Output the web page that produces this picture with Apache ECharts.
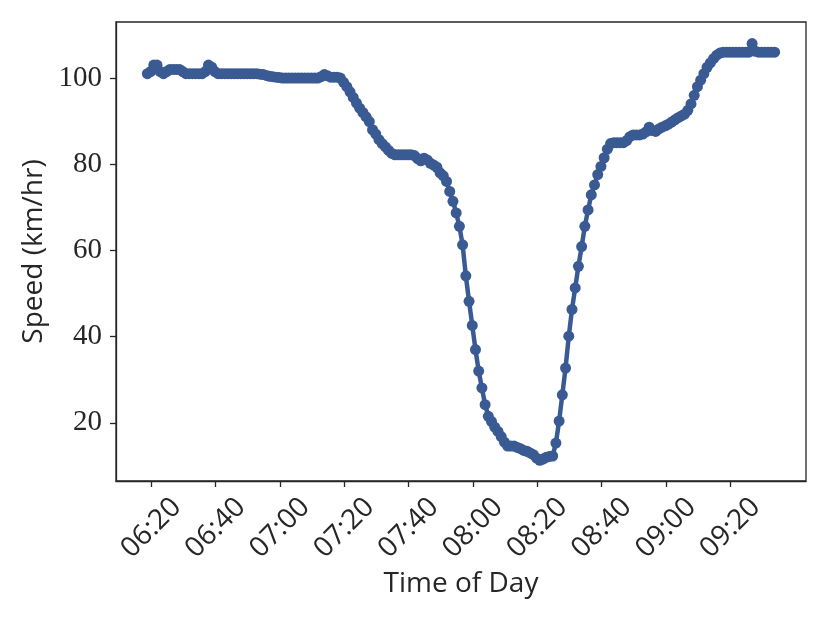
<!DOCTYPE html>
<html>
<head>
<meta charset="utf-8">
<script src="https://cdn.jsdelivr.net/npm/echarts@6/dist/echarts.min.js"></script>
<style>
html,body{margin:0;padding:0;background:#fff;}
#chart{width:830px;height:623px;}
</style>
</head>
<body>
<div id="chart"></div>
<script>
// Sampling: one reading per minute, first reading at 06:18:45
const startMinute = 6 * 60 + 18.75;
const stepMinutes = 1;

// Speed readings (km/hr)
const speeds = [
  101, 101.5, 103, 103, 101.5, 101, 101.5, 102, 102, 102,
  102, 101.5, 101, 101, 101, 101, 101, 101, 101.5, 103,
  102.5, 101.5, 101, 101, 101, 101, 101, 101, 101, 101,
  101, 101, 101, 101, 101, 100.9, 100.8, 100.6, 100.4, 100.3,
  100.2, 100.1, 100, 100, 100, 100, 100, 100, 100, 100,
  100, 100, 100, 100, 100.3, 100.8, 100.5, 100.2, 100.2, 100.2,
  100, 99, 98, 96.8, 95.5, 94.2, 93, 92, 91, 89.9,
  88, 87, 85.7, 84.8, 84, 83.2, 82.5, 82.2, 82.2, 82.2,
  82.2, 82.2, 82.2, 82, 81.3, 80.8, 81.4, 81, 80.2, 79.8,
  79.3, 78, 77.3, 76, 73.7, 71.4, 68.7, 65.6, 61.3, 54.1,
  48.2, 42.6, 37, 32, 28.1, 24.2, 21.5, 20.3, 19, 18,
  16.8, 15.5, 14.6, 14.6, 14.6, 14.3, 14, 13.6, 13.4, 13,
  12.6, 11.8, 11.3, 11.6, 12, 12.2, 12.3, 15.3, 20.4, 26.5,
  32.7, 40.1, 46.3, 51.3, 56.3, 60.9, 65.6, 69.4, 72.9, 75.2,
  77.6, 79.5, 81.5, 83.5, 84.8, 85, 85, 85, 85, 85.5,
  86.4, 86.8, 86.8, 86.8, 87, 87.5, 88.6, 87.8, 87.6, 88.2,
  88.6, 88.9, 89.3, 89.8, 90.3, 90.8, 91.2, 91.6, 92.5, 94,
  96, 98, 99.5, 101, 102.5, 103.5, 104.5, 105.3, 105.8, 106,
  106, 106, 106, 106, 106, 106, 106, 106, 108, 106.2,
  106, 106, 106, 106, 106, 106
];

// Tick positions
const xTickLabels = ["06:20","06:40","07:00","07:20","07:40","08:00","08:20","08:40","09:00","09:20"];
const yTicks = [20, 40, 60, 80, 100];

function toMinutes(s){ const p = s.split(":"); return (+p[0]) * 60 + (+p[1]); }
function fmt(m){ const h = Math.floor(m / 60), mm = Math.round(m - h * 60); return String(h).padStart(2,"0") + ":" + String(mm).padStart(2,"0"); }

const seriesData = speeds.map((v, i) => [startMinute + i * stepMinutes, v]);
const xTicks = xTickLabels.map(toMinutes);

const ink = '#262626';
const blue = '#3a5a93';
const sans = '"Open Sans", "DejaVu Sans", sans-serif';
const serif = '"Liberation Serif", "DejaVu Serif", serif';

const chart = echarts.init(document.getElementById('chart'), null, {renderer: 'canvas'});
chart.setOption({
  animation: false,
  backgroundColor: '#ffffff',
  grid: {
    left: 116, right: 24, top: 22, bottom: 142,
    show: true, borderColor: ink, borderWidth: 1.3, backgroundColor: 'transparent'
  },
  xAxis: {
    type: 'value',
    min: 369.0,
    max: 583.5,
    name: 'Time of Day',
    nameLocation: 'middle',
    nameGap: 87,
    nameTextStyle: {fontFamily: sans, fontSize: 28, color: ink},
    splitLine: {show: false},
    axisLine: {show: true, onZero: false, lineStyle: {color: ink, width: 1.3}},
    axisTick: {show: true, length: 6, lineStyle: {color: ink, width: 1.3}, customValues: xTicks},
    axisLabel: {
      customValues: xTicks,
      formatter: v => fmt(v),
      rotate: 45,
      align: 'center',
      verticalAlign: 'middle',
      margin: 47,
      fontFamily: sans, fontSize: 28, color: ink
    }
  },
  yAxis: {
    type: 'value',
    min: 6.5,
    max: 113,
    name: 'Speed (km/hr)',
    nameLocation: 'middle',
    nameGap: 66,
    nameTextStyle: {fontFamily: sans, fontSize: 28, color: ink},
    splitLine: {show: false},
    axisLine: {show: true, lineStyle: {color: ink, width: 1.3}},
    axisTick: {show: true, length: 6, lineStyle: {color: ink, width: 1.3}, customValues: yTicks},
    axisLabel: {
      customValues: yTicks,
      margin: 14,
      fontFamily: serif, fontSize: 29, color: ink
    }
  },
  series: [{
    type: 'line',
    data: seriesData,
    showSymbol: true,
    symbol: 'circle',
    symbolSize: 11,
    lineStyle: {color: blue, width: 4.5},
    itemStyle: {color: blue},
    emphasis: {disabled: true}
  }]
});
</script>
</body>
</html>
